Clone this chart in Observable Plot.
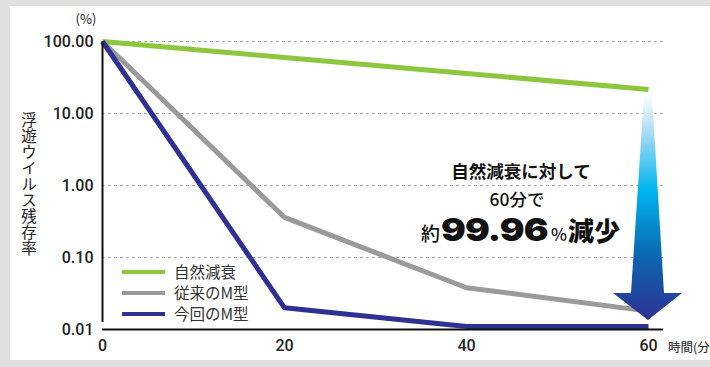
<!DOCTYPE html>
<html><head><meta charset="utf-8">
<script src="https://cdn.jsdelivr.net/npm/d3@7"></script>
<script src="https://cdn.jsdelivr.net/npm/@observablehq/plot@0.6"></script>
<style>
html,body{margin:0;padding:0;background:#e0e0e0;}
svg{display:block;}
</style></head>
<body><div id="chart"></div>
<script>
const minutes = [0, 20, 40, 60];
const naturalDecay = [100, 60, 36, 21.5];
const conventionalM = [100, 0.36, 0.038, 0.018];
const newM = [100, 0.02, 0.011, 0.011];
const seriesNames = ["自然減衰", "従来のM型", "今回のM型"];
const seriesColors = ["#8dc63f", "#9a9a9a", "#2e3192"];
const yTicks = [0.01, 0.1, 1, 10, 100];
const xTicks = [0, 20, 40, 60];
const yTitle = "浮遊ウイルス残存率";
const yUnit = "(%)";
const xTitle = "時間(分)";

const seriesValues = [naturalDecay, conventionalM, newM];
const data = seriesNames.flatMap((s, i) => minutes.map((m, j) => ({series: s, minute: m, value: seriesValues[i][j]})));

const FONT = "Roboto, 'Noto Sans CJK JP', sans-serif";
const JP = "'Noto Sans CJK JP', sans-serif";

const chart = Plot.plot({
  width: 710, height: 367,
  marginLeft: 102, marginRight: 47, marginTop: 41, marginBottom: 38,
  style: {background: "#e0e0e0", fontFamily: FONT, color: "#222"},
  x: {domain: [0, 61.65], ticks: xTicks},
  y: {type: "log", domain: [0.01, 100]},
  color: {domain: seriesNames, range: seriesColors},
  marks: [
    Plot.gridY(yTicks.slice(1), {stroke: "#a8a8a8", strokeOpacity: 1, strokeDasharray: "3,3", strokeWidth: 1}),
    Plot.axisY(yTicks, {tickSize: 0, tickPadding: 9, tickFormat: d3.format(".2f"), fontSize: 16, fontWeight: 500, label: null}),
    Plot.axisX(xTicks, {tickSize: 0, tickPadding: 10, fontSize: 16, fontWeight: 500, label: null}),
    Plot.line(data, {x: "minute", y: "value", z: "series", stroke: "series", strokeWidth: 5, strokeLinecap: "butt", strokeLinejoin: "miter"}),
    Plot.ruleX([0], {stroke: "#111", strokeWidth: 2, y1: 0.01, y2: 100, insetTop: -7}),
    Plot.ruleY([0.01], {stroke: "#111", strokeWidth: 2})
  ]
});
document.getElementById("chart").appendChild(chart);

const svg = d3.select(chart);
// white panel
svg.insert("rect", ":first-child").attr("x", 10).attr("y", 6).attr("width", 700).attr("height", 354).attr("fill", "#fff");

const xs = chart.scale("x"), ys = chart.scale("y");

// arrow
const defs = svg.append("defs");
const grad = defs.append("linearGradient").attr("id", "arrowGrad").attr("x1", 0).attr("y1", 0).attr("x2", 0).attr("y2", 1);
[[0, "#ffffff"], [0.18, "#9fd9f5"], [0.42, "#00b6ee"], [0.7, "#0a6ab4"], [1, "#2e3192"]].forEach(([o, c]) =>
  grad.append("stop").attr("offset", o).attr("stop-color", c));
const ax = xs.apply(60);
const yTop = ys.apply(naturalDecay[3]) + 6;
const yTip = ys.apply(newM[3]) - 6;
const yHead = yTip - 27;
const arrowPts = [
  [ax - 4, yTop], [ax + 4, yTop], [ax + 16, yHead], [ax + 34, yHead], [ax, yTip], [ax - 35, yHead], [ax - 17, yHead]
];
svg.append("path").attr("d", "M" + arrowPts.map(p => p.join(",")).join("L") + "Z").attr("fill", "url(#arrowGrad)");

// y unit
svg.append("text").attr("x", 86).attr("y", 24).attr("text-anchor", "middle").attr("font-size", 13)
  .attr("font-family", JP).attr("fill", "#222").text(yUnit);

// y title vertical
svg.append("text").attr("x", 29).attr("y", 112).attr("text-anchor", "start").attr("font-size", 15.5)
  .attr("font-family", JP).attr("fill", "#222").attr("letter-spacing", 0.6)
  .style("writing-mode", "vertical-rl").style("text-orientation", "upright").text(yTitle);

// x title
svg.append("text").attr("x", ax + 20).attr("y", 352).attr("text-anchor", "start").attr("font-size", 12.5).attr("font-family", JP)
  .attr("fill", "#222").text(xTitle);

// legend
const legend = svg.append("g");
seriesNames.forEach((s, i) => {
  const y = 272 + i * 21;
  legend.append("line").attr("x1", 122).attr("x2", 165).attr("y1", y).attr("y2", y)
    .attr("stroke", seriesColors[i]).attr("stroke-width", 4);
  legend.append("text").attr("x", 174).attr("y", y).attr("dy", "0.36em").attr("text-anchor", "start").attr("font-size", 15.5)
    .attr("font-family", JP).attr("fill", "#333").text(s);
});

// annotation
const ann = svg.append("g").attr("fill", "#111").attr("font-family", JP);
ann.append("text").attr("x", 521).attr("y", 178).attr("text-anchor", "middle").attr("font-size", 17.5).attr("font-weight", 700).text("自然減衰に対して");
ann.append("text").attr("x", 517).attr("y", 206).attr("text-anchor", "middle").attr("font-size", 17.5).attr("font-weight", 500).text("60分で");
ann.append("text").attr("x", 421).attr("y", 241).attr("text-anchor", "start").attr("font-size", 19).attr("font-weight", 500).text("約");
ann.append("text").attr("transform", "translate(441,241) scale(1.15,1)").attr("text-anchor", "start").attr("font-size", 32).attr("font-weight", 900)
  .attr("font-family", "Inter, 'Open Sans', sans-serif").attr("letter-spacing", -0.8).text("99.96");
ann.append("text").attr("x", 551).attr("y", 241).attr("text-anchor", "start").attr("font-size", 17).attr("font-weight", 500).text("%");
ann.append("text").attr("x", 568).attr("y", 241).attr("text-anchor", "start").attr("font-size", 26).attr("font-weight", 900).text("減少");
</script></body></html>
